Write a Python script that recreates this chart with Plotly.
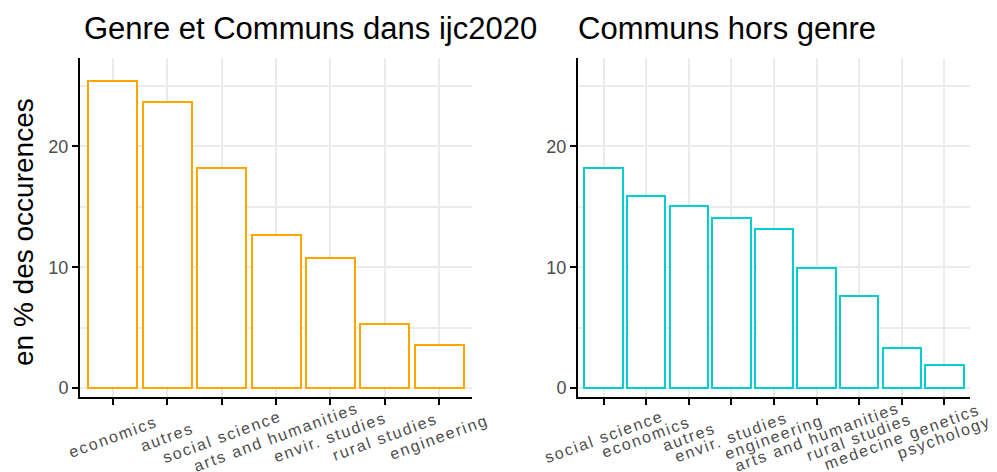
import plotly.graph_objects as go

# Data
left_title = "Genre et Communs dans ijc2020"
right_title = "Communs hors genre"
y_title = "en % des occurences"

left_cats = ["economics", "autres", "social science", "arts and humanities",
             "envir. studies", "rural studies", "engineering"]
left_vals = [25.4, 23.7, 18.2, 12.7, 10.8, 5.3, 3.6]

right_cats = ["social science", "economics", "autres", "envir. studies", "engineering",
              "arts and humanities", "rural studies", "medecine genetics", "psychology"]
right_vals = [18.2, 15.9, 15.1, 14.1, 13.2, 9.9, 7.6, 3.3, 1.9]

y_ticks = [0, 10, 20]

W, H = 997, 472
OFF = 8  # page body margin offset
ORANGE = "#FFA500"
CYAN = "#00CED1"
FONT = "Liberation Sans"

def px_x(p):
    return (p - OFF) / W

def px_y(p):
    return 1 - (p - OFF) / H

fig = go.Figure()
fig.add_trace(go.Bar(x=left_cats, y=left_vals, width=0.9, xaxis="x", yaxis="y",
                     marker=dict(color="white", line=dict(color=ORANGE, width=2)),
                     showlegend=False))
fig.add_trace(go.Bar(x=right_cats, y=right_vals, width=0.9, xaxis="x2", yaxis="y2",
                     marker=dict(color="white", line=dict(color=CYAN, width=2)),
                     showlegend=False))

yrange = [-0.73, 27.3]
ydom = [px_y(397), px_y(58)]
grid = "#EBEBEB"

common_x = dict(showline=True, linecolor="black", linewidth=2, ticks="outside",
                ticklen=6, tickwidth=2, tickcolor="black", showticklabels=False,
                showgrid=True, gridcolor=grid, gridwidth=1.5, zeroline=False,
                type="category")
common_y = dict(range=yrange, domain=ydom, showline=True, linecolor="black", linewidth=2,
                ticks="outside", ticklen=6, tickwidth=2, tickcolor="black",
                tickvals=y_ticks, tickfont=dict(family=FONT, size=18, color="#4D4D4D"),
                showgrid=True, gridcolor=grid, gridwidth=1.5, zeroline=False,
                minor=dict(tickvals=[5, 15, 25], showgrid=True, gridcolor=grid,
                           gridwidth=1.5, ticks=""))

fig.update_layout(
    width=W, height=H, margin=dict(l=0, r=0, t=0, b=0),
    paper_bgcolor="white", plot_bgcolor="white", bargap=0,
    xaxis=dict(domain=[px_x(80), px_x(472)], range=[-0.6, len(left_cats) - 0.4],
               anchor="y", **common_x),
    yaxis=dict(anchor="x", **common_y),
    xaxis2=dict(domain=[px_x(578), px_x(970)], range=[-0.6, len(right_cats) - 0.4],
                anchor="y2", **common_x),
    yaxis2=dict(anchor="x2", **common_y),
)

annotations = []
label_y = px_y(437)
lab_font = dict(family=FONT, size=16, color="#4D4D4D")
for xr, cats in (("x", left_cats), ("x2", right_cats)):
    for c in cats:
        annotations.append(dict(x=c, y=label_y, xref=xr, yref="paper", showarrow=False,
                                text='<span style="letter-spacing:1.8px">%s</span>' % c,
                                width=260, height=30, align="center",
                                textangle=-20, xanchor="center", yanchor="middle",
                                font=lab_font))
annotations.append(dict(x=px_x(82), y=px_y(28), xref="paper", yref="paper", showarrow=False,
                        text=left_title, xanchor="left", yanchor="middle",
                        font=dict(family=FONT, size=31, color="black")))
annotations.append(dict(x=px_x(576), y=px_y(28), xref="paper", yref="paper", showarrow=False,
                        text=right_title, xanchor="left", yanchor="middle",
                        font=dict(family=FONT, size=31, color="black")))
annotations.append(dict(x=px_x(23), y=px_y(232), xref="paper", yref="paper", showarrow=False,
                        text=y_title, textangle=-90, xanchor="center", yanchor="middle",
                        font=dict(family=FONT, size=28, color="black")))
fig.update_layout(annotations=annotations)

fig.write_html("out.html")
